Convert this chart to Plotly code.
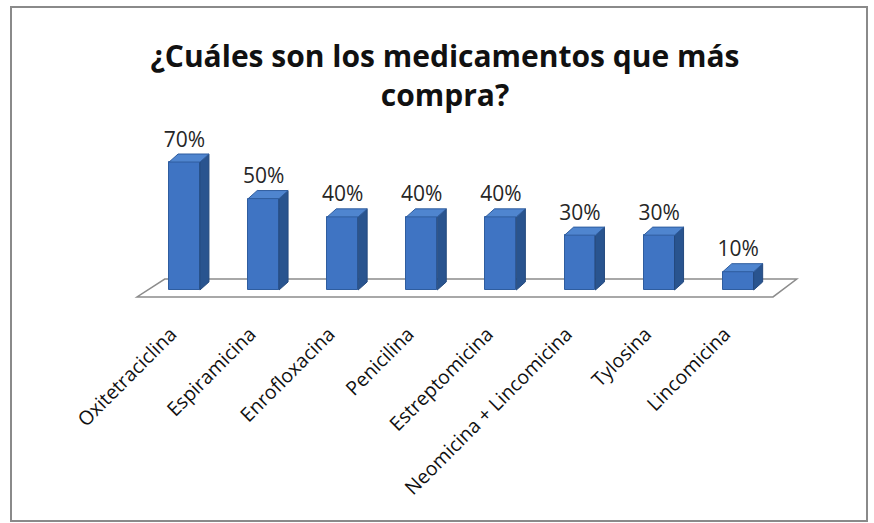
import plotly.graph_objects as go

categories = ["Oxitetraciclina", "Espiramicina", "Enrofloxacina", "Penicilina",
              "Estreptomicina", "Neomicina + Lincomicina", "Tylosina", "Lincomicina"]
values = [70, 50, 40, 40, 40, 30, 30, 10]
labels = ["70%", "50%", "40%", "40%", "40%", "30%", "30%", "10%"]

idx = list(range(len(categories)))
W = 874
H = 523
ML, MR, MT, MB = 130, 74, 120, 205
plot_w = W - ML - MR
plot_h = H - MT - MB
x_range = [-0.689, 7.781]
px_per_unit_y = 1.828
y0_px = 290
y_range = [-(H - MB - y0_px) / px_per_unit_y, (y0_px - MT) / px_per_unit_y]

bw = 0.39          # front face width (category units)
dx = 0.114         # depth offset in x
dy = 4.4           # depth offset in y (percent units)
label_shift = -0.17  # tick label anchor shift (category units)
text_pad = 1.2       # data label lift (percent units)

front = "#3f74c3"
side = "#29548f"
top = "#4f85cf"

fig = go.Figure()

# front faces
fig.add_trace(go.Bar(x=idx, y=values, width=bw, base=0,
                     marker=dict(color=front, line=dict(color="#2f5d9f", width=1)),
                     hoverinfo="skip", showlegend=False))

# side and top faces
sx, sy = [], []
tx, ty = [], []
for i, v in zip(idx, values):
    r = i + bw / 2
    l = i - bw / 2
    sx += [r, r + dx, r + dx, r, r, None]
    sy += [0, dy, v + dy, v, 0, None]
    tx += [l, l + dx, r + dx, r, l, None]
    ty += [v, v + dy, v + dy, v, v, None]
fig.add_trace(go.Scatter(x=sx, y=sy, mode="lines", fill="toself", fillcolor=side,
                         line=dict(color="#24497e", width=1), hoverinfo="skip", showlegend=False))
fig.add_trace(go.Scatter(x=tx, y=ty, mode="lines", fill="toself", fillcolor=top,
                         line=dict(color="#2f5d9f", width=1), hoverinfo="skip", showlegend=False))

# data labels
fig.add_trace(go.Scatter(x=idx, y=[v + dy + text_pad for v in values],
                         mode="text", text=labels, textposition="top center",
                         textfont=dict(family="Open Sans", size=21, color="#262626"),
                         hoverinfo="skip", showlegend=False))

# floor (3D base plane)
f_front = -3.8
f_back = 6.0
floor_path = (f"M -0.60,{f_front} L 7.44,{f_front} L 7.74,{f_back} "
              f"L -0.25,{f_back} Z")
fig.add_shape(type="path", path=floor_path, xref="x", yref="y",
              fillcolor="white", line=dict(color="#8c8c8c", width=1.5), layer="below")

# outer border
fig.add_shape(type="rect", xref="paper", yref="paper",
              x0=(11 - ML) / plot_w, x1=(867 - ML) / plot_w,
              y0=(H - MB - 521) / plot_h, y1=(H - MB - 7) / plot_h,
              line=dict(color="#8a8a8a", width=2), fillcolor="rgba(0,0,0,0)", layer="below")

fig.update_layout(
    width=W, height=H,
    margin=dict(l=ML, r=MR, t=MT, b=MB),
    paper_bgcolor="white", plot_bgcolor="white",
    title=dict(text="¿Cuáles son los medicamentos que más<br>compra?",
               xref="container", x=445 / W, xanchor="center",
               yref="container", y=1 - 67 / H, yanchor="middle",
               font=dict(family="Open Sans", size=30, color="#111111", weight="bold")),
    xaxis=dict(range=x_range, tickmode="array",
               tickvals=[i + label_shift for i in idx], ticktext=categories,
               tickangle=-45, showgrid=False, zeroline=False, showline=False, ticks="",
               tickfont=dict(family="Open Sans", size=19.5, color="#111111"), fixedrange=True),
    yaxis=dict(range=y_range, visible=False, showgrid=False, zeroline=False, fixedrange=True),
    bargap=0,
)

fig.write_html("out.html")
